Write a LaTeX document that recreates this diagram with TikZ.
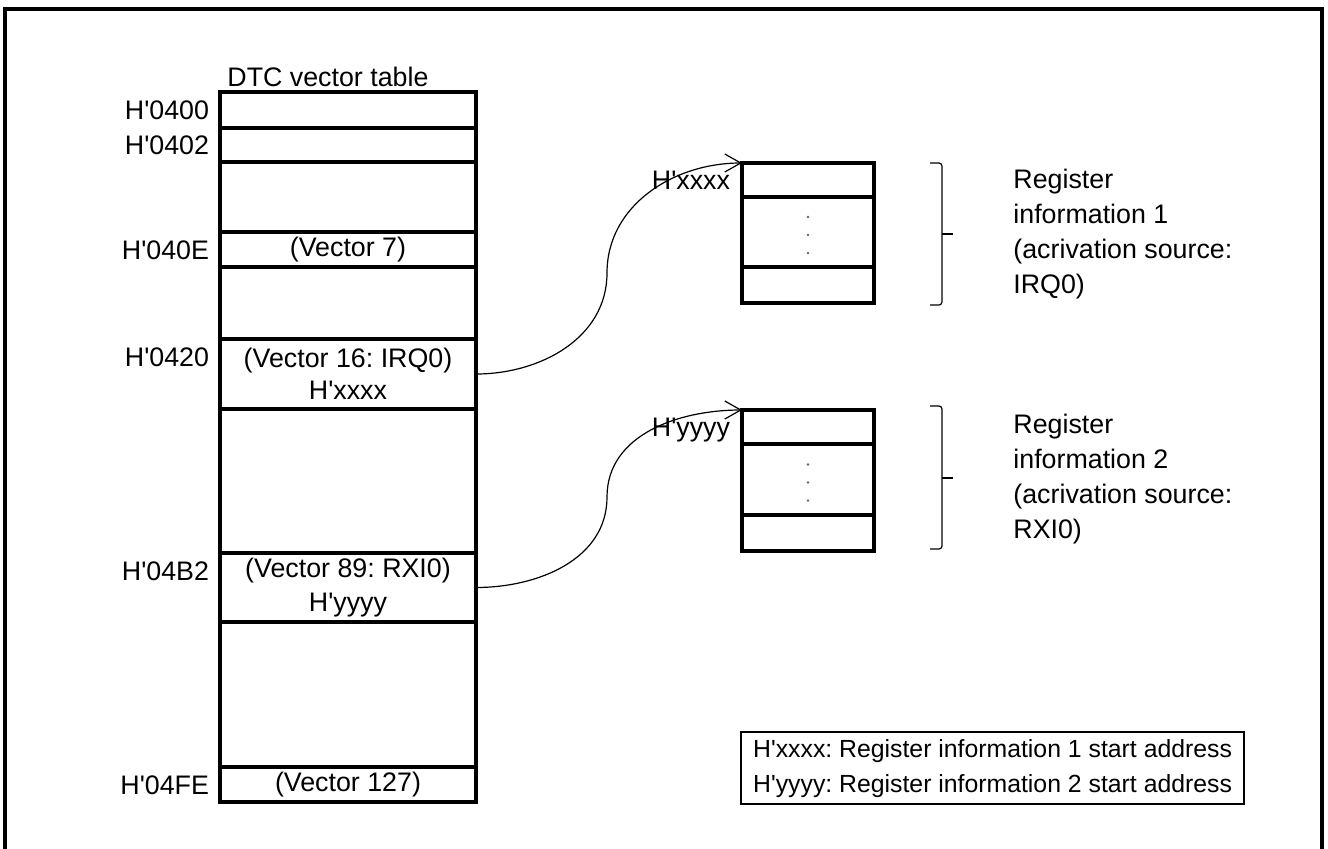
\documentclass[tikz,border=0pt]{standalone}
\usepackage{fontspec}
\newfontfamily\lsans{Liberation Sans}
\usetikzlibrary{arrows.meta,positioning}
\frenchspacing

\tikzset{
  cell/.style={draw, line width=1.8pt, inner sep=0pt, outer sep=0pt, anchor=north west, align=center,
    font=\lsans\fontsize{13.4}{16}\selectfont},
  addr/.style={inner sep=0pt, outer sep=0pt, anchor=east, text height=9.6pt, text depth=0pt,
    font=\lsans\fontsize{13.4}{16}\selectfont},
  link/.style={line width=0.6pt, -{Straight Barb[length=8pt,width=9pt]}},
  bracket/.style={line width=0.6pt, rounded corners=1.5pt},
}

\begin{document}
\begin{tikzpicture}[x=0.5pt, y=-0.5pt]

% drawing dimensions
\newcommand{\tabx}{220}
\newcommand{\tabw}{128pt}
\newcommand{\regx}{742}
\newcommand{\regw}{66pt}

% frame
\clip (0,0) rectangle (1328,848);
\draw[line width=1.8pt] (5,9) rectangle (1322,870);

% DTC vector table
\node[anchor=base west, inner sep=0pt, font=\lsans\fontsize{13.4}{16}\selectfont] (title) at (227,86) {DTC vector table};
\node[cell, minimum width=\tabw, minimum height=18pt] (v0400) at (\tabx,92) {};
\node[cell, minimum width=\tabw, minimum height=17pt, below=0pt of v0400] (v0402) {};
\node[cell, minimum width=\tabw, minimum height=35pt, below=0pt of v0402] (gap1) {};
\node[cell, minimum width=\tabw, minimum height=17.5pt, below=0pt of gap1] (v040E) {(Vector 7)};
\node[cell, minimum width=\tabw, minimum height=36pt, below=0pt of v040E] (gap2) {};
\node[cell, minimum width=\tabw, minimum height=35pt, below=0pt of gap2] (v0420) {(Vector 16: IRQ0)\\H'xxxx};
\node[cell, minimum width=\tabw, minimum height=72pt, below=0pt of v0420] (gap3) {};
\node[cell, minimum width=\tabw, minimum height=34.5pt, below=0pt of gap3] (v04B2) {(Vector 89: RXI0)\\[1pt]H'yyyy};
\node[cell, minimum width=\tabw, minimum height=72.5pt, below=0pt of v04B2] (gap4) {};
\node[cell, minimum width=\tabw, minimum height=17.5pt, below=0pt of gap4] (v04FE) {(Vector 127)};

% addresses
\node[addr, left=5.5pt of v0400] (a0400) {H'0400};
\node[addr, left=5.5pt of v0402] (a0402) {H'0402};
\node[addr, left=5.5pt of v040E] (a040E) {H'040E};
\node[addr, left=5.5pt of v0420, yshift=8.5pt] (a0420) {H'0420};
\node[addr, left=5.5pt of v04B2, yshift=8.25pt] (a04B2) {H'04B2};
\node[addr, left=5.5pt of v04FE] (a04FE) {H'04FE};

% register information 1
\node[cell, minimum width=\regw, minimum height=17pt] (reg1top) at (\regx,163) {};
\node[cell, minimum width=\regw, minimum height=35pt, below=0pt of reg1top] (reg1mid) {};
\node[cell, minimum width=\regw, minimum height=18pt, below=0pt of reg1mid] (reg1bot) {};
\node[addr, left=6pt of reg1top] (xxxx) {H'xxxx};

% register information 2
\node[cell, minimum width=\regw, minimum height=17pt] (reg2top) at (\regx,410) {};
\node[cell, minimum width=\regw, minimum height=35.5pt, below=0pt of reg2top] (reg2mid) {};
\node[cell, minimum width=\regw, minimum height=18pt, below=0pt of reg2mid] (reg2bot) {};
\node[addr, left=6pt of reg2top] (yyyy) {H'yyyy};

% dots
\foreach \dy in {-15,3,21} {
  \fill[black!60] (reg1mid.center) ++(0,\dy) circle (0.7pt);
  \fill[black!60] (reg2mid.center) ++(0,\dy) circle (0.7pt);
}

% arrows
\coordinate (bend1) at (607,273);
\coordinate (bend2) at (607,497);
\draw[link] (v0420.east) to[out=0,in=-90] (bend1) to[out=90,in=180] (reg1top.north west);
\draw[link] (v04B2.east) to[out=0,in=-90] (bend2) to[out=90,in=180] (reg2top.north west);

% brackets
\draw[bracket] (930,163) -- (942,163) -- (942,305) -- (930,305);
\draw[line width=0.6pt] (942,234) -- (953,234);
\draw[bracket] (930,406) -- (942,406) -- (942,549) -- (930,549);
\draw[line width=0.6pt] (942,478) -- (953,478);

\node[anchor=west, align=left, inner sep=0pt, font=\lsans\fontsize{13.4}{17.5}\selectfont] (info1) at (1013,234) {Register\\information 1\\(acrivation source:\\IRQ0)};
\node[anchor=west, align=left, inner sep=0pt, font=\lsans\fontsize{13.4}{17.5}\selectfont] (info2) at (1013,479) {Register\\information 2\\(acrivation source:\\RXI0)};

% legend
\node[draw, line width=1.1pt, anchor=north west, minimum width=251.5pt, minimum height=36pt, align=left,
  font=\lsans\fontsize{12.4}{17.5}\selectfont] (legend) at (740,731) {H'xxxx: Register information 1 start address\\H'yyyy: Register information 2 start address};

\end{tikzpicture}
\end{document}
